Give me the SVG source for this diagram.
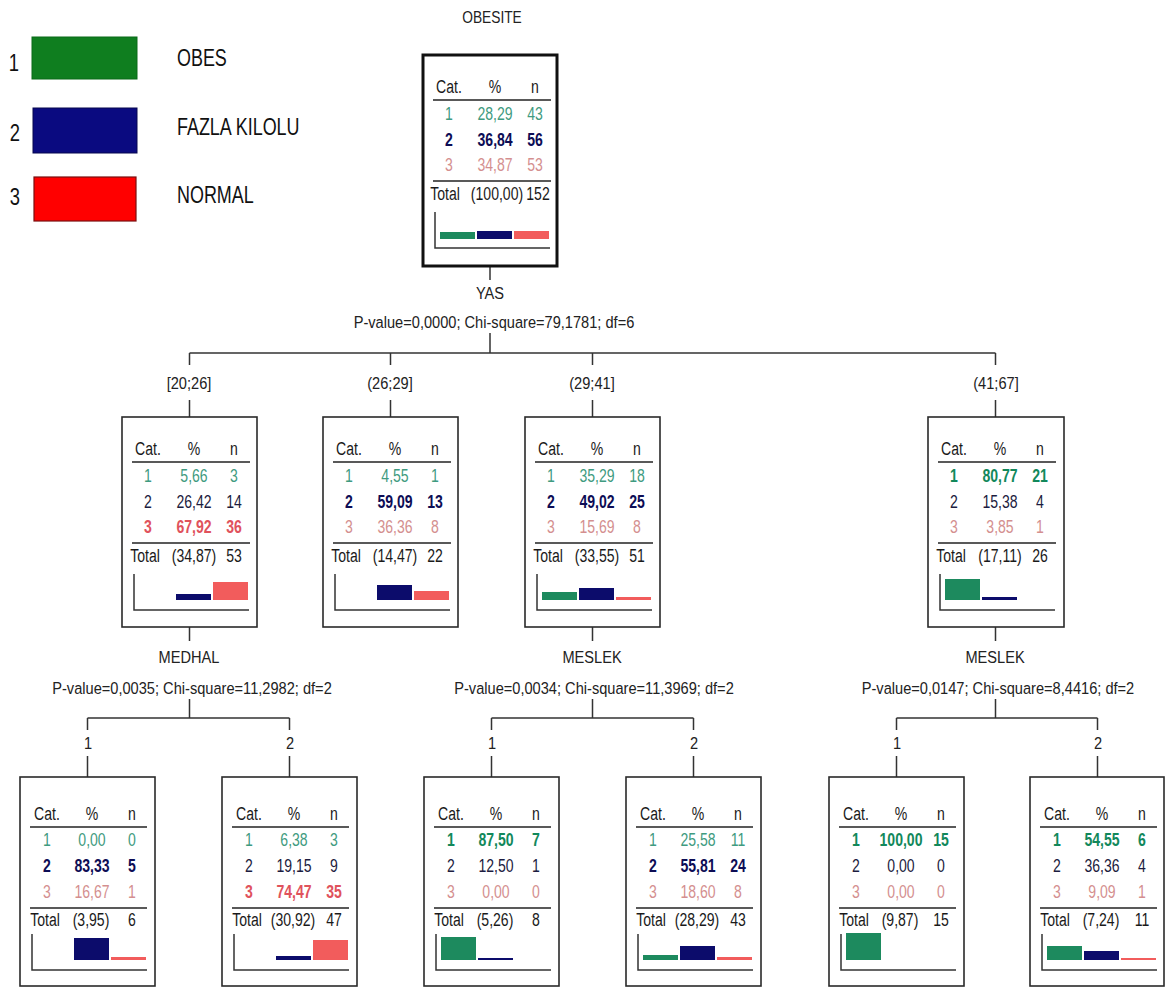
<svg xmlns="http://www.w3.org/2000/svg" width="1168" height="989" viewBox="0 0 1168 989">
<style>
text{font-family:"Liberation Sans",Arial,sans-serif;dominant-baseline:central;transform-box:fill-box;}
.t{font-size:19px;text-anchor:middle;transform-origin:center;transform:scaleX(.74);fill:#1a1a1a}
.lab{font-size:17px;text-anchor:middle;transform-origin:center;transform:scaleX(.86);fill:#222}
.leg{font-size:23px;text-anchor:start;transform-origin:left center;transform:scaleX(.78);fill:#111}
.legn{font-size:23px;text-anchor:middle;transform-origin:center;transform:scaleX(.8);fill:#111}
.c1{fill:#3f9b80}.c1b{fill:#12885b;font-weight:bold}
.c2{fill:#1c1c40}.c2b{fill:#0d0d55;font-weight:bold}
.c3{fill:#d48f8f}.c3b{fill:#e0525c;font-weight:bold}
.box{fill:#fff;stroke:#2a2a2a;stroke-width:1.6}
.root{stroke:#111;stroke-width:3}
.rule{stroke:#222;stroke-width:1.6}
.ax{fill:none;stroke:#333;stroke-width:1.5}
.g{fill:#1d8a5e}.n{fill:#0c0c6b}.r{fill:#f25c5c}
.cn{fill:none;stroke:#333;stroke-width:1.5}
</style>

<g id="legend">
<text class="legn" x="14" y="63">1</text>
<rect x="32" y="37" width="105" height="42" fill="#0f7e1f" stroke="#0a6a18" stroke-width="1"/>
<text class="leg" x="177" y="58">OBES</text>
<text class="legn" x="15" y="133">2</text>
<rect x="33" y="108" width="104" height="45" fill="#0a0a80" stroke="#06064f" stroke-width="1"/>
<text class="leg" x="177" y="127">FAZLA KILOLU</text>
<text class="legn" x="15" y="197">3</text>
<rect x="34" y="177" width="102" height="44" fill="#ff0000" stroke="#7a1010" stroke-width="1.2"/>
<text class="leg" x="177" y="195">NORMAL</text>
</g>

<g id="connectors">
<text class="lab" x="492" y="17" style="font-size:16px">OBESITE</text>
<path class="cn" d="M490 266V280"/>
<text class="lab" x="490" y="293">YAS</text>
<text class="lab" x="494" y="322">P-value=0,0000; Chi-square=79,1781; df=6</text>
<path class="cn" d="M490 333V353M189.5 353H995.5M189.5 353V365M390.5 353V365M592.5 353V365M995.5 353V365"/>
<text class="lab" x="189" y="383">[20;26]</text>
<text class="lab" x="390" y="383">(26;29]</text>
<text class="lab" x="592" y="383">(29;41]</text>
<text class="lab" x="996" y="383">(41;67]</text>
<path class="cn" d="M189.5 400V417M390.5 400V417M592.5 400V417M995.5 400V417"/>

<path class="cn" d="M189.5 627V641M592.5 627V641M995.5 627V641"/>
<text class="lab" x="189" y="657">MEDHAL</text>
<text class="lab" x="192" y="688">P-value=0,0035; Chi-square=11,2982; df=2</text>
<text class="lab" x="592" y="657">MESLEK</text>
<text class="lab" x="594" y="688">P-value=0,0034; Chi-square=11,3969; df=2</text>
<text class="lab" x="995" y="657">MESLEK</text>
<text class="lab" x="998" y="688">P-value=0,0147; Chi-square=8,4416; df=2</text>
<path class="cn" d="M189.5 699V718M87.5 718H289.5M87.5 718V730M289.5 718V730"/>
<path class="cn" d="M592.5 699V718M491.5 718H693.5M491.5 718V730M693.5 718V730"/>
<path class="cn" d="M995.5 699V718M896.5 718H1097.5M896.5 718V730M1097.5 718V730"/>
<text class="lab" x="88" y="743">1</text>
<text class="lab" x="290" y="743">2</text>
<text class="lab" x="492" y="743">1</text>
<text class="lab" x="694" y="743">2</text>
<text class="lab" x="897" y="743">1</text>
<text class="lab" x="1098" y="743">2</text>
<path class="cn" d="M87.5 756V777M289.5 756V777M491.5 756V777M693.5 756V777M896.5 756V777M1097.5 756V777"/>
</g>

<g id="node-root" transform="translate(423,55)">
<rect class="box root" x="0" y="0" width="134" height="211"/>
<text class="t" x="26" y="32">Cat.</text><text class="t" x="72" y="32">%</text><text class="t" x="112" y="32">n</text>
<line class="rule" x1="10" y1="45" x2="128" y2="45"/>
<text class="t c1" x="26" y="59">1</text><text class="t c1" x="72" y="59">28,29</text><text class="t c1" x="112" y="59">43</text>
<text class="t c2b" x="26" y="85">2</text><text class="t c2b" x="72" y="85">36,84</text><text class="t c2b" x="112" y="85">56</text>
<text class="t c3" x="26" y="110">3</text><text class="t c3" x="72" y="110">34,87</text><text class="t c3" x="112" y="110">53</text>
<line class="rule" x1="10" y1="126" x2="128" y2="126"/>
<text class="t" x="22" y="139">Total</text><text class="t" x="74" y="139">(100,00)</text><text class="t" x="115" y="139">152</text>
<path class="ax" d="M12 157V193H127"/>
<rect class="g" x="17" y="177" width="35" height="7"/>
<rect class="n" x="54" y="176" width="35" height="8"/>
<rect class="r" x="91" y="176" width="35" height="8"/>
</g>

<g id="node-a1" transform="translate(122,417)">
<rect class="box" x="0" y="0" width="135" height="210"/>
<text class="t" x="26" y="32">Cat.</text><text class="t" x="72" y="32">%</text><text class="t" x="112" y="32">n</text>
<line class="rule" x1="10" y1="45" x2="128" y2="45"/>
<text class="t c1" x="26" y="59">1</text><text class="t c1" x="72" y="59">5,66</text><text class="t c1" x="112" y="59">3</text>
<text class="t c2" x="26" y="85">2</text><text class="t c2" x="72" y="85">26,42</text><text class="t c2" x="112" y="85">14</text>
<text class="t c3b" x="26" y="110">3</text><text class="t c3b" x="72" y="110">67,92</text><text class="t c3b" x="112" y="110">36</text>
<line class="rule" x1="10" y1="126" x2="128" y2="126"/>
<text class="t" x="23" y="139">Total</text><text class="t" x="72" y="139">(34,87)</text><text class="t" x="112" y="139">53</text>
<path class="ax" d="M12 157V193H127"/>
<rect class="n" x="54" y="177" width="35" height="6"/>
<rect class="r" x="91" y="165" width="35" height="18"/>
</g>

<g id="node-a2" transform="translate(323,417)">
<rect class="box" x="0" y="0" width="135" height="210"/>
<text class="t" x="26" y="32">Cat.</text><text class="t" x="72" y="32">%</text><text class="t" x="112" y="32">n</text>
<line class="rule" x1="10" y1="45" x2="128" y2="45"/>
<text class="t c1" x="26" y="59">1</text><text class="t c1" x="72" y="59">4,55</text><text class="t c1" x="112" y="59">1</text>
<text class="t c2b" x="26" y="85">2</text><text class="t c2b" x="72" y="85">59,09</text><text class="t c2b" x="112" y="85">13</text>
<text class="t c3" x="26" y="110">3</text><text class="t c3" x="72" y="110">36,36</text><text class="t c3" x="112" y="110">8</text>
<line class="rule" x1="10" y1="126" x2="128" y2="126"/>
<text class="t" x="23" y="139">Total</text><text class="t" x="72" y="139">(14,47)</text><text class="t" x="112" y="139">22</text>
<path class="ax" d="M12 157V193H127"/>
<rect class="n" x="54" y="168" width="35" height="15"/>
<rect class="r" x="91" y="174" width="35" height="9"/>
</g>

<g id="node-a3" transform="translate(525,417)">
<rect class="box" x="0" y="0" width="135" height="210"/>
<text class="t" x="26" y="32">Cat.</text><text class="t" x="72" y="32">%</text><text class="t" x="112" y="32">n</text>
<line class="rule" x1="10" y1="45" x2="128" y2="45"/>
<text class="t c1" x="26" y="59">1</text><text class="t c1" x="72" y="59">35,29</text><text class="t c1" x="112" y="59">18</text>
<text class="t c2b" x="26" y="85">2</text><text class="t c2b" x="72" y="85">49,02</text><text class="t c2b" x="112" y="85">25</text>
<text class="t c3" x="26" y="110">3</text><text class="t c3" x="72" y="110">15,69</text><text class="t c3" x="112" y="110">8</text>
<line class="rule" x1="10" y1="126" x2="128" y2="126"/>
<text class="t" x="23" y="139">Total</text><text class="t" x="72" y="139">(33,55)</text><text class="t" x="112" y="139">51</text>
<path class="ax" d="M12 157V193H127"/>
<rect class="g" x="17" y="175" width="35" height="8"/>
<rect class="n" x="54" y="171" width="35" height="12"/>
<rect class="r" x="91" y="180" width="35" height="3"/>
</g>

<g id="node-a4" transform="translate(928,417)">
<rect class="box" x="0" y="0" width="136" height="210"/>
<text class="t" x="26" y="32">Cat.</text><text class="t" x="72" y="32">%</text><text class="t" x="112" y="32">n</text>
<line class="rule" x1="10" y1="45" x2="128" y2="45"/>
<text class="t c1b" x="26" y="59">1</text><text class="t c1b" x="72" y="59">80,77</text><text class="t c1b" x="112" y="59">21</text>
<text class="t c2" x="26" y="85">2</text><text class="t c2" x="72" y="85">15,38</text><text class="t c2" x="112" y="85">4</text>
<text class="t c3" x="26" y="110">3</text><text class="t c3" x="72" y="110">3,85</text><text class="t c3" x="112" y="110">1</text>
<line class="rule" x1="10" y1="126" x2="128" y2="126"/>
<text class="t" x="23" y="139">Total</text><text class="t" x="72" y="139">(17,11)</text><text class="t" x="112" y="139">26</text>
<path class="ax" d="M12 157V193H127"/>
<rect class="g" x="17" y="162" width="35" height="21"/>
<rect class="n" x="54" y="180" width="35" height="3"/>
</g>

<g id="node-b1" transform="translate(20,777)">
<rect class="box" x="0" y="0" width="135" height="209"/>
<text class="t" x="27" y="37">Cat.</text><text class="t" x="72" y="37">%</text><text class="t" x="112" y="37">n</text>
<line class="rule" x1="10" y1="50" x2="127" y2="50"/>
<text class="t c1" x="27" y="63">1</text><text class="t c1" x="72" y="63">0,00</text><text class="t c1" x="112" y="63">0</text>
<text class="t c2b" x="27" y="89">2</text><text class="t c2b" x="72" y="89">83,33</text><text class="t c2b" x="112" y="89">5</text>
<text class="t c3" x="27" y="115">3</text><text class="t c3" x="72" y="115">16,67</text><text class="t c3" x="112" y="115">1</text>
<line class="rule" x1="10" y1="131" x2="127" y2="131"/>
<text class="t" x="25" y="143">Total</text><text class="t" x="71" y="143">(3,95)</text><text class="t" x="112" y="143">6</text>
<path class="ax" d="M12 157V193H127"/>
<rect class="n" x="54" y="161" width="35" height="22"/>
<rect class="r" x="91" y="180" width="35" height="3"/>
</g>

<g id="node-b2" transform="translate(222,777)">
<rect class="box" x="0" y="0" width="135" height="209"/>
<text class="t" x="27" y="37">Cat.</text><text class="t" x="72" y="37">%</text><text class="t" x="112" y="37">n</text>
<line class="rule" x1="10" y1="50" x2="127" y2="50"/>
<text class="t c1" x="27" y="63">1</text><text class="t c1" x="72" y="63">6,38</text><text class="t c1" x="112" y="63">3</text>
<text class="t c2" x="27" y="89">2</text><text class="t c2" x="72" y="89">19,15</text><text class="t c2" x="112" y="89">9</text>
<text class="t c3b" x="27" y="115">3</text><text class="t c3b" x="72" y="115">74,47</text><text class="t c3b" x="112" y="115">35</text>
<line class="rule" x1="10" y1="131" x2="127" y2="131"/>
<text class="t" x="25" y="143">Total</text><text class="t" x="71" y="143">(30,92)</text><text class="t" x="112" y="143">47</text>
<path class="ax" d="M12 157V193H127"/>
<rect class="n" x="54" y="179" width="35" height="4"/>
<rect class="r" x="91" y="163" width="35" height="20"/>
</g>

<g id="node-b3" transform="translate(424,777)">
<rect class="box" x="0" y="0" width="135" height="209"/>
<text class="t" x="27" y="37">Cat.</text><text class="t" x="72" y="37">%</text><text class="t" x="112" y="37">n</text>
<line class="rule" x1="10" y1="50" x2="127" y2="50"/>
<text class="t c1b" x="27" y="63">1</text><text class="t c1b" x="72" y="63">87,50</text><text class="t c1b" x="112" y="63">7</text>
<text class="t c2" x="27" y="89">2</text><text class="t c2" x="72" y="89">12,50</text><text class="t c2" x="112" y="89">1</text>
<text class="t c3" x="27" y="115">3</text><text class="t c3" x="72" y="115">0,00</text><text class="t c3" x="112" y="115">0</text>
<line class="rule" x1="10" y1="131" x2="127" y2="131"/>
<text class="t" x="25" y="143">Total</text><text class="t" x="71" y="143">(5,26)</text><text class="t" x="112" y="143">8</text>
<path class="ax" d="M12 157V193H127"/>
<rect class="g" x="17" y="160" width="35" height="23"/>
<rect class="n" x="54" y="181" width="35" height="2"/>
</g>

<g id="node-b4" transform="translate(626,777)">
<rect class="box" x="0" y="0" width="135" height="209"/>
<text class="t" x="27" y="37">Cat.</text><text class="t" x="72" y="37">%</text><text class="t" x="112" y="37">n</text>
<line class="rule" x1="10" y1="50" x2="127" y2="50"/>
<text class="t c1" x="27" y="63">1</text><text class="t c1" x="72" y="63">25,58</text><text class="t c1" x="112" y="63">11</text>
<text class="t c2b" x="27" y="89">2</text><text class="t c2b" x="72" y="89">55,81</text><text class="t c2b" x="112" y="89">24</text>
<text class="t c3" x="27" y="115">3</text><text class="t c3" x="72" y="115">18,60</text><text class="t c3" x="112" y="115">8</text>
<line class="rule" x1="10" y1="131" x2="127" y2="131"/>
<text class="t" x="25" y="143">Total</text><text class="t" x="71" y="143">(28,29)</text><text class="t" x="112" y="143">43</text>
<path class="ax" d="M12 157V193H127"/>
<rect class="g" x="17" y="178" width="35" height="5"/>
<rect class="n" x="54" y="169" width="35" height="14"/>
<rect class="r" x="91" y="180" width="35" height="3"/>
</g>

<g id="node-b5" transform="translate(829,777)">
<rect class="box" x="0" y="0" width="135" height="209"/>
<text class="t" x="27" y="37">Cat.</text><text class="t" x="72" y="37">%</text><text class="t" x="112" y="37">n</text>
<line class="rule" x1="10" y1="50" x2="127" y2="50"/>
<text class="t c1b" x="27" y="63">1</text><text class="t c1b" x="72" y="63">100,00</text><text class="t c1b" x="112" y="63">15</text>
<text class="t c2" x="27" y="89">2</text><text class="t c2" x="72" y="89">0,00</text><text class="t c2" x="112" y="89">0</text>
<text class="t c3" x="27" y="115">3</text><text class="t c3" x="72" y="115">0,00</text><text class="t c3" x="112" y="115">0</text>
<line class="rule" x1="10" y1="131" x2="127" y2="131"/>
<text class="t" x="25" y="143">Total</text><text class="t" x="71" y="143">(9,87)</text><text class="t" x="112" y="143">15</text>
<path class="ax" d="M12 157V193H127"/>
<rect class="g" x="17" y="156" width="35" height="27"/>
</g>

<g id="node-b6" transform="translate(1030,777)">
<rect class="box" x="0" y="0" width="134" height="209"/>
<text class="t" x="27" y="37">Cat.</text><text class="t" x="72" y="37">%</text><text class="t" x="112" y="37">n</text>
<line class="rule" x1="10" y1="50" x2="127" y2="50"/>
<text class="t c1b" x="27" y="63">1</text><text class="t c1b" x="72" y="63">54,55</text><text class="t c1b" x="112" y="63">6</text>
<text class="t c2" x="27" y="89">2</text><text class="t c2" x="72" y="89">36,36</text><text class="t c2" x="112" y="89">4</text>
<text class="t c3" x="27" y="115">3</text><text class="t c3" x="72" y="115">9,09</text><text class="t c3" x="112" y="115">1</text>
<line class="rule" x1="10" y1="131" x2="127" y2="131"/>
<text class="t" x="25" y="143">Total</text><text class="t" x="71" y="143">(7,24)</text><text class="t" x="112" y="143">11</text>
<path class="ax" d="M12 157V193H127"/>
<rect class="g" x="17" y="169" width="35" height="14"/>
<rect class="n" x="54" y="174" width="35" height="9"/>
<rect class="r" x="91" y="181" width="35" height="2"/>
</g>
</svg>
